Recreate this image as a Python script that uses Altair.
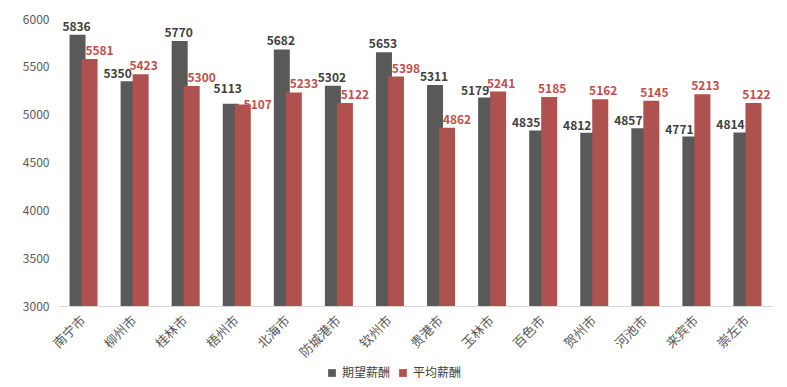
import altair as alt
import pandas as pd

cities = ["南宁市", "柳州市", "桂林市", "梧州市", "北海市", "防城港市", "钦州市",
          "贵港市", "玉林市", "百色市", "贺州市", "河池市", "来宾市", "崇左市"]
expected = [5836, 5350, 5770, 5113, 5682, 5302, 5653, 5311, 5179, 4835, 4812, 4857, 4771, 4814]
average = [5581, 5423, 5300, 5107, 5233, 5122, 5398, 4862, 5241, 5185, 5162, 5145, 5213, 5122]
series = ["期望薪酬", "平均薪酬"]
colors = ["#595959", "#AF514E"]
label_colors = ["#404040", "#C0504D"]

rows = []
for c, e, a in zip(cities, expected, average):
    rows.append({"city": c, "series": series[0], "value": e, "other": a})
    rows.append({"city": c, "series": series[1], "value": a, "other": e})
df = pd.DataFrame(rows)

FONT = "Noto Sans CJK SC"

x = alt.X("city:N", sort=cities, title=None,
          scale=alt.Scale(paddingInner=0, paddingOuter=0),
          axis=alt.Axis(labelAngle=-45, labelAlign="right", labelBaseline="middle",
                        ticks=False, labelPadding=12, labelFontSize=13,
                        labelColor="#595959", domainColor="#d9d9d9", labelFont=FONT))
y = alt.Y("value:Q", title=None,
          scale=alt.Scale(domain=[3000, 6000], zero=False, nice=False),
          axis=alt.Axis(values=[3000, 3500, 4000, 4500, 5000, 5500, 6000], format="d", grid=False,
                        domain=False, ticks=False, labelPadding=9, labelFontSize=12,
                        labelColor="#595959", labelFont=FONT, minExtent=40, maxExtent=40))
color = alt.Color("series:N", sort=series, title=None,
                  scale=alt.Scale(domain=series, range=colors),
                  legend=alt.Legend(orient="none", legendX=268, legendY=348, direction="horizontal",
                                    symbolType="square", symbolSize=60, symbolStrokeWidth=0,
                                    labelFontSize=12, labelFont=FONT, labelColor="#404040",
                                    columnPadding=6, labelOffset=4))

base = alt.Chart(df)
dark = base.transform_filter(alt.datum.series == series[0])
red = base.transform_filter(alt.datum.series == series[1])

bar1 = dark.mark_bar(width=16, xOffset=-6).encode(x=x, y=y, y2=alt.datum(3000), color=color)
bar2 = red.mark_bar(width=16, xOffset=6).encode(x=x, y=y, y2=alt.datum(3000), color=color)

txt_kw = dict(baseline="alphabetic", fontWeight="bold", fontSize=12, font=FONT)
enc = dict(x=x, y=y, text=alt.Text("value:Q", format="d"))

# dark labels: lower than partner -> shifted left; near-equal -> raised
t1a = dark.transform_filter("datum.value < datum.other").mark_text(
    xOffset=-17, dy=-3, color=label_colors[0], **txt_kw).encode(**enc)
t1b = dark.transform_filter("datum.value >= datum.other && datum.value - datum.other >= 60").mark_text(
    xOffset=-7, dy=-4, color=label_colors[0], **txt_kw).encode(**enc)
t1c = dark.transform_filter("datum.value >= datum.other && datum.value - datum.other < 60").mark_text(
    xOffset=-9, dy=-11, color=label_colors[0], **txt_kw).encode(**enc)
t2a = red.transform_filter("datum.value > datum.other").mark_text(
    xOffset=9, dy=-4, color=label_colors[1], **txt_kw).encode(**enc)
t2b = red.transform_filter("datum.value <= datum.other && datum.other - datum.value >= 60").mark_text(
    xOffset=16, dy=-4, color=label_colors[1], **txt_kw).encode(**enc)
t2c = red.transform_filter("datum.value <= datum.other && datum.other - datum.value < 60").mark_text(
    xOffset=21, dy=5, color=label_colors[1], **txt_kw).encode(**enc)

chart = alt.layer(bar1, bar2, t1a, t1b, t1c, t2a, t2b, t2c).properties(
    width=715, height=287,
    padding={"left": 10, "top": 5, "right": 5, "bottom": 5}
).configure(font=FONT).configure_view(stroke=None)

chart.save("out.html", embed_options={"renderer": "svg", "actions": False})
